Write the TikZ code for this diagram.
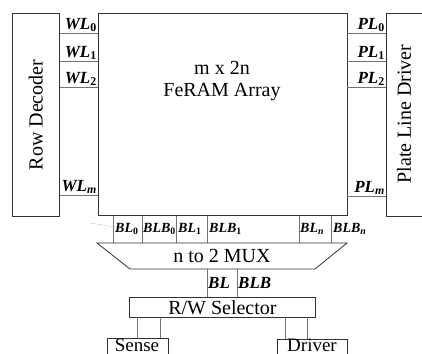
\documentclass[tikz,border=0pt]{standalone}
\usepackage{fontspec}
\setmainfont{Liberation Serif}
\usetikzlibrary{positioning}

\begin{document}
\begin{tikzpicture}[x=1pt, y=-1pt,
  blk/.style={draw=black!80, line width=0.8pt, inner sep=0pt, anchor=north west,
              font=\fontsize{20}{22}\selectfont},
  wire/.style={draw=black!55, line width=0.9pt},
  txt/.style={font=\fontsize{20}{22}\selectfont, inner sep=0pt},
  cuttxt/.style={font=\fontsize{19}{20}\selectfont, inner sep=0pt, anchor=base,
                 text height=12pt, text depth=0pt},
  sig/.style={font=\fontsize{17}{17}\selectfont\bfseries\itshape, inner sep=1pt},
  bsig/.style={font=\fontsize{14}{14}\selectfont\bfseries\itshape, inner sep=0pt, anchor=west}
]
  \useasboundingbox (0,0) rectangle (422,353);
  \clip (0,0) rectangle (422,353);

  % main blocks
  \node[blk, minimum width=47pt, minimum height=203pt] (rowdec) at (12,13) {};
  \node[txt, rotate=90] (rowtxt) at (rowdec.center) {Row Decoder};
  \node[blk, minimum width=249pt, minimum height=202pt] (array) at (98,13) {};
  \node[txt, align=center] (arrtxt) at (222,81) {m x 2n\\FeRAM Array};
  \node[blk, minimum width=50pt, minimum height=203pt] (pldrv) at (386,13) {};
  \node[txt, rotate=90] (pltxt) at (404,114) {Plate Line Driver};

  % word lines
  \coordinate (w0) at (98,33);
  \coordinate (w1) at (98,61);
  \coordinate (w2) at (98,87);
  \coordinate (wm) at (98,195);
  \draw[wire] (rowdec.east |- w0) -- (w0);
  \draw[wire] (rowdec.east |- w1) -- (w1);
  \draw[wire] (rowdec.east |- w2) -- (w2);
  \draw[wire] (rowdec.east |- wm) -- (wm);
  \node[sig, above left] (wl0) at (w0) {WL\textsubscript{\upshape 0}};
  \node[sig, above left] (wl1) at (w1) {WL\textsubscript{\upshape 1}};
  \node[sig, above left] (wl2) at (w2) {WL\textsubscript{\upshape 2}};
  \node[sig, above left] (wlm) at (wm) {WL\textsubscript{m}};

  % plate lines
  \coordinate (p0) at (347,33);
  \coordinate (p1) at (347,61);
  \coordinate (p2) at (347,87);
  \coordinate (pm) at (347,196);
  \draw[wire] (p0) -- (pldrv.west |- p0);
  \draw[wire] (p1) -- (pldrv.west |- p1);
  \draw[wire] (p2) -- (pldrv.west |- p2);
  \draw[wire] (pm) -- (pldrv.west |- pm);
  \node[sig, above left] (pl0) at (pldrv.west |- p0) {PL\textsubscript{\upshape 0}};
  \node[sig, above left] (pl1) at (pldrv.west |- p1) {PL\textsubscript{\upshape 1}};
  \node[sig, above left] (pl2) at (pldrv.west |- p2) {PL\textsubscript{\upshape 2}};
  \node[sig, above left] (plm) at (pldrv.west |- pm) {PL\textsubscript{m}};

  % bit line cells
  \coordinate (b0) at (113,243);
  \coordinate (b1) at (142,243);
  \coordinate (b2) at (176,243);
  \coordinate (b3) at (207,243);
  \coordinate (b4) at (299,243);
  \coordinate (b5) at (331,243);
  \draw[wire] (b0) -- (array.south -| b0);
  \draw[wire] (b1) -- (array.south -| b1);
  \draw[wire] (b2) -- (array.south -| b2);
  \draw[wire] (b3) -- (array.south -| b3);
  \draw[wire] (b4) -- (array.south -| b4);
  \draw[wire] (b5) -- (array.south -| b5);
  \node[bsig] (bl0)  at (115,229) {BL\textsubscript{\upshape 0}};
  \node[bsig] (blb0) at (143,229) {BLB\textsubscript{\upshape 0}};
  \node[bsig] (bl1)  at (178,229) {BL\textsubscript{\upshape 1}};
  \node[bsig] (blb1) at (209,229) {BLB\textsubscript{\upshape 1}};
  \node[bsig] (bln)  at (300,229) {BL\textsubscript{n}};
  \node[bsig] (blbn) at (333,229) {BLB\textsubscript{n}};
  \coordinate (s0) at (90,223);
  \coordinate (s1) at (115,227);
  \draw[gray!45, thin] (s0) -- (s1);

  % multiplexer
  \coordinate (mtl) at (97,243);
  \coordinate (mtr) at (347,243);
  \coordinate (mbr) at (315,269);
  \coordinate (mbl) at (130,269);
  \draw[draw=black!80, line width=0.8pt] (mtl) -- (mtr) -- (mbr) -- (mbl) -- cycle;
  \node[txt] (mux) at (222,256) {n to 2 MUX};

  % read/write path
  \node[blk, minimum width=186pt, minimum height=20pt] (rwsel) at (129,297) {R/W Selector};
  \coordinate (bl) at (207,269);
  \coordinate (blb) at (237,269);
  \draw[wire] (bl) -- (bl |- rwsel.north);
  \draw[wire] (blb) -- (blb |- rwsel.north);
  \node[sig, anchor=west] (bltxt) at (207,283) {BL};
  \node[sig, anchor=west] (blbtxt) at (237,283) {BLB};

  \node[blk, minimum width=61pt, minimum height=30pt] (sense) at (107,338) {};
  \node[cuttxt] (sensetxt) at (137,351) {Sense};
  \node[blk, minimum width=70pt, minimum height=30pt] (drv) at (277,339) {};
  \node[cuttxt] (drvtxt) at (312,351) {Driver};
  \coordinate (r0) at (137,317);
  \coordinate (r1) at (160,317);
  \coordinate (r2) at (285,317);
  \coordinate (r3) at (307,317);
  \draw[wire] (r0) -- (sense.north -| r0);
  \draw[wire] (r1) -- (sense.north -| r1);
  \draw[wire] (r2) -- (drv.north -| r2);
  \draw[wire] (r3) -- (drv.north -| r3);
\end{tikzpicture}
\end{document}
